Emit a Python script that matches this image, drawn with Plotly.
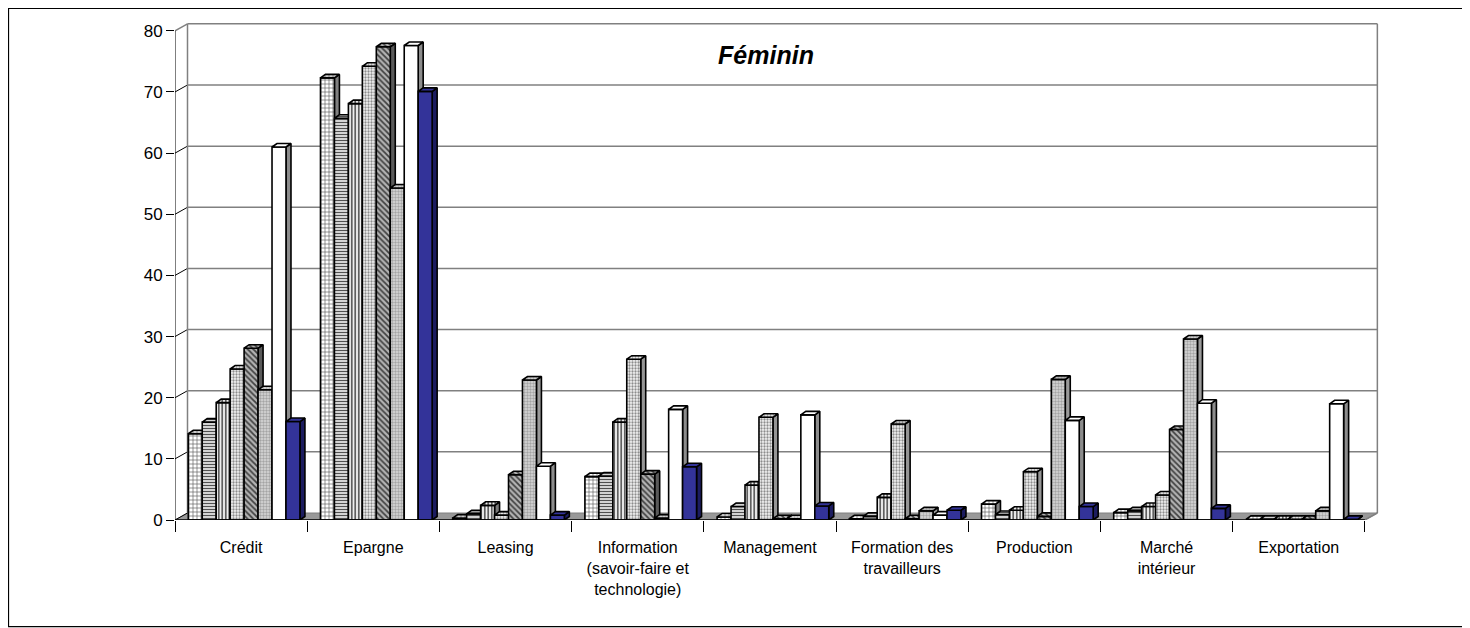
import plotly.graph_objects as go

# --- data ------------------------------------------------------------------
categories = [
    "Crédit",
    "Epargne",
    "Leasing",
    "Information<br>(savoir-faire et<br>technologie)",
    "Management",
    "Formation des<br>travailleurs",
    "Production",
    "Marché<br>intérieur",
    "Exportation",
]

serie_1 = [14.1, 72.3, 0.3, 7.1, 0.5, 0.2, 2.6, 1.2, 0.1]
serie_2 = [16.0, 65.7, 1.0, 7.2, 2.2, 0.6, 0.9, 1.5, 0.1]
serie_3 = [19.2, 68.1, 2.4, 16.0, 5.7, 3.7, 1.6, 2.2, 0.1]
serie_4 = [24.7, 74.2, 0.8, 26.3, 16.8, 15.7, 7.9, 4.1, 0.1]
serie_5 = [28.1, 77.4, 7.4, 7.5, 0.2, 0.2, 0.6, 14.8, 0.1]
serie_6 = [21.3, 54.3, 22.9, 0.3, 0.2, 1.5, 23.0, 29.6, 1.5]
serie_7 = [61.0, 77.6, 8.8, 18.1, 17.2, 0.8, 16.3, 19.1, 19.0]
serie_8 = [16.1, 70.1, 0.8, 8.7, 2.3, 1.6, 2.2, 1.9, 0.1]

y_ticks = [0, 10, 20, 30, 40, 50, 60, 70, 80]
title_text = "Féminin"

series = [serie_1, serie_2, serie_3, serie_4, serie_5, serie_6, serie_7, serie_8]

# --- styles: pattern of each series (front/cap) and its side face ----------
STYLES = [
    dict(shape="+", bg="#ffffff", fg="#5a5a5a", size=4, sol=0.3, side="#808080"),
    dict(shape="-", bg="#ffffff", fg="#505050", size=3, sol=0.5, side="#7a7a7a"),
    dict(shape="|", bg="#f0f0f0", fg="#505050", size=3.5, sol=0.45, side="#7a7a7a"),
    dict(shape=".", bg="#f4f4f4", fg="#8c8c8c", size=3, sol=0.45, side="#959595"),
    dict(shape="\\", bg="#b4b4b4", fg="#404040", size=4, sol=0.45, side="#5a5a5a"),
    dict(shape=".", bg="#dadada", fg="#a4a4a4", size=3, sol=0.5, side="#9a9a9a"),
    dict(shape="", bg="#ffffff", fg="#ffffff", size=4, sol=0.3, side="#8c8c8c"),
    dict(shape="", bg="#333399", fg="#333399", size=4, sol=0.3, side="#1c1c60"),
]

FONT = "Arial, Liberation Sans, sans-serif"
PAGE_OFFSET = 8  # the page body margin moves the figure by this much
W, H = 1470 - PAGE_OFFSET, 628 - PAGE_OFFSET

# pixel frame of the front plane of the 3D box (figure pixels)
X0_PX, X1_PX = 175 - PAGE_OFFSET, 1365 - PAGE_OFFSET
Y0_PX, YTOP_PX = 520 - PAGE_OFFSET, 31 - PAGE_OFFSET
WALL_DX_PX, WALL_DY_PX = 12.5, 7.0
BAR_W_PX = 13.96
BAR_DX_PX, BAR_DY_PX = 5.0, 3.5
CLUSTER_SHIFT_PX = 3.0

n_cat = len(categories)
n_ser = len(series)
ymax = y_ticks[-1]
ppx = (X1_PX - X0_PX) / n_cat
ppy = (Y0_PX - YTOP_PX) / ymax

wdx, wdy = WALL_DX_PX / ppx, WALL_DY_PX / ppy
bw = BAR_W_PX / ppx
bdx, bdy = BAR_DX_PX / ppx, BAR_DY_PX / ppy
shift = CLUSTER_SHIFT_PX / ppx

x_hi = n_cat + wdx + 0.02
y_hi = ymax + wdy + 0.3
margin_l = X0_PX
margin_r = W - (X0_PX + x_hi * ppx)
margin_b = H - Y0_PX
margin_t = Y0_PX - y_hi * ppy
plot_w = W - margin_l - margin_r
plot_h = H - margin_t - margin_b


def bar_faces(values, i):
    fx, fy, sx, sy, cx, cy = [], [], [], [], [], []
    for k, v in enumerate(values):
        x0 = k + 0.5 + shift - n_ser * bw / 2 + i * bw
        x1 = x0 + bw
        fx += [x0, x1, x1, x0, x0, None]
        fy += [0, 0, v, v, 0, None]
        sx += [x1, x1 + bdx, x1 + bdx, x1, x1, None]
        sy += [0, bdy, v + bdy, v, 0, None]
        cx += [x0, x1, x1 + bdx, x0 + bdx, x0, None]
        cy += [v, v, v + bdy, v + bdy, v, None]
    return (fx, fy), (sx, sy), (cx, cy)


def pattern(st):
    return dict(shape=st["shape"], bgcolor=st["bg"], fgcolor=st["fg"],
                size=st["size"], solidity=st["sol"], fillmode="replace")


fig = go.Figure()
edge = dict(color="black", width=1.6)
for i, values in enumerate(series):
    st = STYLES[i]
    front, side, cap = bar_faces(values, i)
    fig.add_trace(go.Scatter(x=side[0], y=side[1], mode="lines", fill="toself",
                             fillcolor=st["side"], line=edge, hoverinfo="skip",
                             showlegend=False))
    fig.add_trace(go.Scatter(x=front[0], y=front[1], mode="lines", fill="toself",
                             fillcolor=st["bg"], fillpattern=pattern(st), line=edge,
                             name=f"Série {i + 1}", showlegend=False))
    fig.add_trace(go.Scatter(x=cap[0], y=cap[1], mode="lines", fill="toself",
                             fillcolor=st["bg"], fillpattern=pattern(st), line=edge,
                             hoverinfo="skip", showlegend=False))

# back wall, side wall, floor and gridlines of the 3D box
shapes = []
wall_line = dict(color="#808080", width=1.5)
shapes.append(dict(type="path", xref="x", yref="y", layer="below",
                   path=f"M 0,0 L {n_cat},0 L {n_cat + wdx},{wdy} L {wdx},{wdy} Z",
                   fillcolor="#999999", line=dict(color="#808080", width=1)))
for v in y_ticks[1:-1]:
    shapes.append(dict(type="line", xref="x", yref="y", layer="below",
                       x0=wdx, x1=n_cat + wdx, y0=v + wdy, y1=v + wdy, line=wall_line))
for v in y_ticks[:-1]:
    shapes.append(dict(type="line", xref="x", yref="y", layer="below",
                       x0=0, x1=wdx, y0=v, y1=v + wdy, line=dict(color="black", width=1)))
shapes += [
    dict(type="line", xref="x", yref="y", layer="below", x0=wdx, x1=wdx,
         y0=wdy, y1=ymax + wdy, line=wall_line),
    dict(type="line", xref="x", yref="y", layer="below", x0=wdx, x1=n_cat + wdx,
         y0=ymax + wdy, y1=ymax + wdy, line=wall_line),
    dict(type="line", xref="x", yref="y", layer="below", x0=n_cat + wdx, x1=n_cat + wdx,
         y0=wdy, y1=ymax + wdy, line=wall_line),
    dict(type="line", xref="x", yref="y", layer="below", x0=0, x1=wdx,
         y0=ymax, y1=ymax + wdy, line=wall_line),
    dict(type="line", xref="x", yref="y", layer="below", x0=n_cat, x1=n_cat + wdx,
         y0=0, y1=wdy, line=wall_line),
    # front axes
    dict(type="line", xref="x", yref="y", x0=0, x1=0, y0=0, y1=ymax,
         line=dict(color="black", width=1)),
    dict(type="line", xref="x", yref="y", x0=0, x1=n_cat, y0=0, y1=0,
         line=dict(color="black", width=1.5)),
    # chart-area border, on the figure edges
    dict(type="rect", xref="paper", yref="paper",
         x0=(0.5 - margin_l) / plot_w, x1=(W - 1.5 - margin_l) / plot_w,
         y0=(Y0_PX - (H - 1.5)) / plot_h, y1=(Y0_PX - 0.5) / plot_h,
         line=dict(color="black", width=1.2)),
]

fig.update_layout(
    width=W, height=H,
    margin=dict(l=margin_l, r=margin_r, t=margin_t, b=margin_b, pad=0),
    paper_bgcolor="white", plot_bgcolor="white",
    font=dict(family=FONT, size=16, color="black"),
    shapes=shapes,
    title=dict(text=f"<b><i>{title_text}</i></b>", xref="container", yref="container",
               x=(766 - PAGE_OFFSET) / W, y=1 - (55 - PAGE_OFFSET) / H,
               xanchor="center", yanchor="middle",
               font=dict(size=25, family=FONT)),
    xaxis=dict(range=[0, x_hi], tickvals=[k + 0.5 for k in range(n_cat)],
               ticktext=categories, ticks="", showgrid=False, zeroline=False,
               showline=False, ticklabelstandoff=16, fixedrange=True,
               tickfont=dict(size=16),
               minor=dict(tickvals=list(range(n_cat + 1)), ticks="outside",
                          ticklen=11, tickcolor="black", tickwidth=1, showgrid=False)),
    yaxis=dict(range=[0, y_hi], tickvals=y_ticks, ticks="outside", ticklen=8,
               tickcolor="black", showgrid=False, zeroline=False, showline=False,
               fixedrange=True, tickfont=dict(size=17)),
)

fig.write_html("out.html")
